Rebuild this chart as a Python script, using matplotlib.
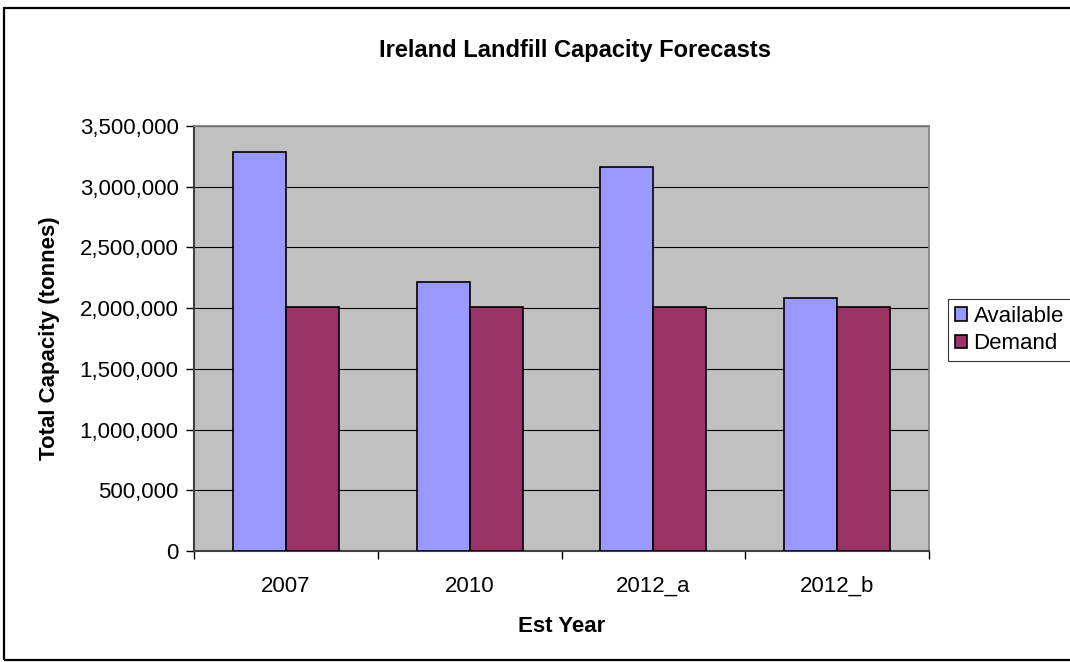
import matplotlib
matplotlib.use("Agg")
import matplotlib.pyplot as plt
from matplotlib.patches import Rectangle
from matplotlib.ticker import FuncFormatter
import numpy as np

plt.rcParams['font.family'] = ['Liberation Sans', 'DejaVu Sans']

years = ['2007', '2010', '2012_a', '2012_b']
available = [3290000, 2215000, 3165000, 2082000]
demand = [2010000, 2010000, 2010000, 2010000]

fig = plt.figure(figsize=(10.7, 6.62), dpi=100)
ax = fig.add_axes([194/1070, 1-551/662, (929-194)/1070, (551-126)/662])

x = np.arange(len(years))
w = 0.288
ax.set_facecolor('#C0C0C0')
ax.set_axisbelow(True)
ax.yaxis.grid(True, color='black', linewidth=0.8)
ax.bar(x - w/2, available, w, color='#9999FF', edgecolor='black', linewidth=1.2, label='Available', zorder=3)
ax.bar(x + w/2, demand, w, color='#993366', edgecolor='black', linewidth=1.2, label='Demand', zorder=3)

ax.set_ylim(0, 3500000)
ax.set_yticks(np.arange(0, 3500001, 500000))
ax.yaxis.set_major_formatter(FuncFormatter(lambda v, p: f'{int(v):,}'))
ax.set_xlim(-0.5, len(years) - 0.5)
ax.set_xticks(np.arange(-0.5, len(years), 1.0))
ax.set_xticklabels([])
ax.set_xticks(x, minor=True)
ax.set_xticklabels(years, minor=True)
ax.tick_params(axis='x', which='minor', length=0, pad=18, labelsize=16)
ax.tick_params(axis='x', which='major', length=6, width=1, direction='out', color='black')
ax.tick_params(axis='y', length=6, width=1, direction='out', labelsize=16, pad=5)

for s in ['top', 'right']:
    ax.spines[s].set_color('#808080')
    ax.spines[s].set_linewidth(1.2)
for s in ['left', 'bottom']:
    ax.spines[s].set_color('#404040')
    ax.spines[s].set_linewidth(1.5)

ax.set_xlabel('Est Year', fontsize=16, fontweight='bold', labelpad=14)
ax.set_ylabel('Total Capacity (tonnes)', fontsize=16, fontweight='bold', labelpad=14)
fig.text(575/1070, 1-50/662, 'Ireland Landfill Capacity Forecasts', ha='center', va='center',
         fontsize=17, fontweight='bold')

leg = fig.legend(loc='upper left', bbox_to_anchor=(948/1070, 1-299/662), fontsize=16,
                 handlelength=0.55, handleheight=0.55, handletextpad=0.3, borderpad=0.3,
                 labelspacing=0.3, borderaxespad=0, fancybox=False, frameon=True)
leg.get_frame().set_edgecolor('black')
leg.get_frame().set_linewidth(0.8)

fig.patches.append(Rectangle((4/1070, 1-660/662), 1.1, (660-8)/662, transform=fig.transFigure,
                             fill=False, edgecolor='black', linewidth=1.6))

fig.savefig('out.png', dpi=100)
